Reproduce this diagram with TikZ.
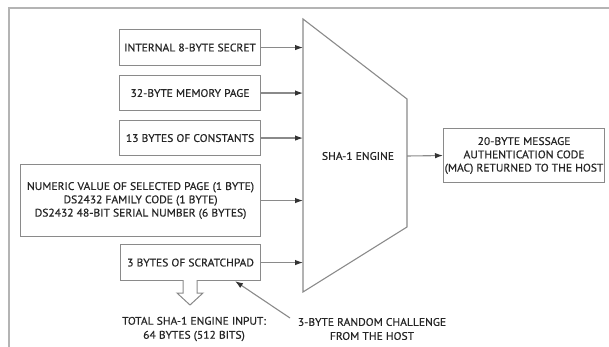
\documentclass[tikz,border=0pt]{standalone}
\usepackage{fontspec}
\setmainfont[FakeStretch=1.05,FakeBold=0.5]{PT Sans}
\usetikzlibrary{arrows.meta}
\definecolor{edge}{HTML}{8A8A8A}
\definecolor{frame}{HTML}{B4B4B4}
\definecolor{ink}{HTML}{262626}
\definecolor{tip}{HTML}{333333}
\tikzset{
  inbox/.style={draw=edge, line width=1.1pt, fill=white, text=ink, font=\fontsize{11}{13.3}\selectfont,
    inner sep=0pt, align=center, anchor=north west},
  feed/.style={draw=edge, line width=1.1pt, -{Latex[length=8pt,width=5.5pt,color=tip]}},
  lbl/.style={text=ink, font=\fontsize{11}{14}\selectfont, align=center}
}
\begin{document}
\begin{tikzpicture}[x=1pt,y=-1pt]
\useasboundingbox (0,0) rectangle (609,347);
% outer frame (left and top edges only)
\draw[frame, line width=1.6pt] (9,350) -- (9,8) -- (612,8);

% input boxes
\node[inbox, minimum width=141pt, minimum height=36pt] (secret) at (119,29) {INTERNAL 8-BYTE SECRET};
\node[inbox, minimum width=141pt, minimum height=35pt] (page) at (119,75) {32-BYTE MEMORY PAGE};
\node[inbox, minimum width=141pt, minimum height=35pt] (const) at (119,120) {13 BYTES OF CONSTANTS};
\node[inbox, minimum width=240pt, minimum height=72pt] (ids) at (20,164)
  {NUMERIC VALUE OF SELECTED PAGE (1 BYTE)\\DS2432 FAMILY CODE (1 BYTE)\\DS2432 48-BIT SERIAL NUMBER (6 BYTES)};
\node[inbox, minimum width=140pt, minimum height=36pt] (scratch) at (120,244) {3 BYTES OF SCRATCHPAD};

% SHA-1 engine trapezoid
\coordinate (engTL) at (303,19);
\coordinate (engTR) at (407,99);
\coordinate (engBR) at (407,227);
\coordinate (engBL) at (303,292);
\draw[edge, line width=1.1pt, fill=white] (engTL) -- (engTR) -- (engBR) -- (engBL) -- cycle;
\node[lbl] (engine) at (358,156) {SHA-1 ENGINE};

% result box
\node[inbox, minimum width=161pt, minimum height=54pt] (mac) at (443,128)
  {20-BYTE MESSAGE\\AUTHENTICATION CODE\\(MAC) RETURNED TO THE HOST};

% inputs into the engine
\foreach \b in {secret,page,const,ids,scratch}
  \draw[feed] (\b.east) -- (\b.east -| engTL);
% engine output
\draw[feed] (engine.east -| engTR) -- (mac.west);

% total input (hollow arrow)
\draw[edge, line width=1pt, fill=white]
  (183,280) -- (183,293) -- (177,293) -- (190,305) -- (203,293) -- (197,293) -- (197,280);
\node[lbl] (total) at (194,329) {TOTAL SHA-1 ENGINE INPUT:\\64 BYTES (512 BITS)};

% random challenge from the host
\node[lbl] (chal) at (372,329) {3-BYTE RANDOM CHALLENGE\\FROM THE HOST};
\coordinate (chalTail) at (290,318);
\draw[edge, line width=1.1pt, -{Latex[length=8pt,width=5.5pt,color=tip]}] (chalTail) -- (scratch.south east -| 235,0);
\end{tikzpicture}
\end{document}
